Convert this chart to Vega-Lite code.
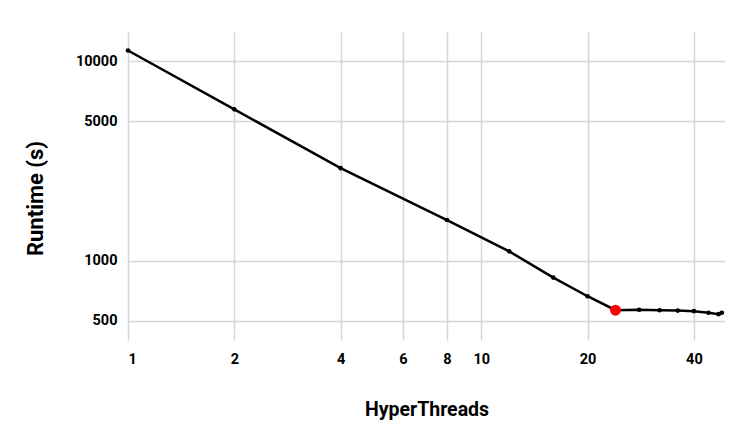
{
  "$schema": "https://vega.github.io/schema/vega-lite/v6.json",
  "width": 597,
  "height": 308,
  "autosize": {"type": "none"},
  "padding": {"left": 128, "top": 32, "right": 22, "bottom": 101},
  "background": "white",
  "config": {
    "view": {"stroke": null},
    "font": "Roboto",
    "axis": {
      "labelFont": "Roboto",
      "labelFontWeight": "bold",
      "labelColor": "#000000",
      "titleFont": "Roboto",
      "titleFontWeight": "bold",
      "titleColor": "#000000",
      "gridColor": "#d6d6d6",
      "gridWidth": 1.5,
      "domain": false,
      "ticks": false
    }
  },
  "data": {
    "values": [
      {"threads": 1, "runtime": 11310, "highlight": false},
      {"threads": 2, "runtime": 5735, "highlight": false},
      {"threads": 4, "runtime": 2907, "highlight": false},
      {"threads": 8, "runtime": 1598, "highlight": false},
      {"threads": 12, "runtime": 1113, "highlight": false},
      {"threads": 16, "runtime": 822, "highlight": false},
      {"threads": 20, "runtime": 663, "highlight": false},
      {"threads": 24, "runtime": 564, "highlight": true},
      {"threads": 28, "runtime": 567, "highlight": false},
      {"threads": 32, "runtime": 564, "highlight": false},
      {"threads": 36, "runtime": 562, "highlight": false},
      {"threads": 40, "runtime": 558, "highlight": false},
      {"threads": 44, "runtime": 548, "highlight": false},
      {"threads": 47, "runtime": 539, "highlight": false},
      {"threads": 48, "runtime": 548, "highlight": false}
    ]
  },
  "encoding": {
    "x": {
      "field": "threads",
      "type": "quantitative",
      "scale": {"type": "log", "domain": [1, 49], "nice": false},
      "axis": {
        "title": "HyperThreads",
        "values": [1, 2, 4, 6, 8, 10, 20, 40],
        "format": "d",
        "labelFontSize": 14.5,
        "titleFontSize": 19.5,
        "labelPadding": 12,
        "titleY": 75,
        "titleBaseline": "alphabetic"
      }
    },
    "y": {
      "field": "runtime",
      "type": "quantitative",
      "scale": {"type": "log", "domain": [400, 14000], "nice": false},
      "axis": {
        "title": "Runtime (s)",
        "values": [500, 1000, 5000, 10000],
        "format": "d",
        "labelFontSize": 14.5,
        "titleFontSize": 22,
        "labelPadding": 11,
        "titleX": -86,
        "titleY": 166,
        "titleAlign": "center",
        "titleBaseline": "alphabetic"
      }
    }
  },
  "layer": [
    {"mark": {"type": "line", "color": "#000000", "strokeWidth": 2.5}},
    {"mark": {"type": "circle", "color": "#000000", "opacity": 1, "size": 22}},
    {
      "transform": [{"filter": "datum.highlight"}],
      "mark": {"type": "circle", "color": "#ff0000", "opacity": 1, "size": 120}
    }
  ]
}
